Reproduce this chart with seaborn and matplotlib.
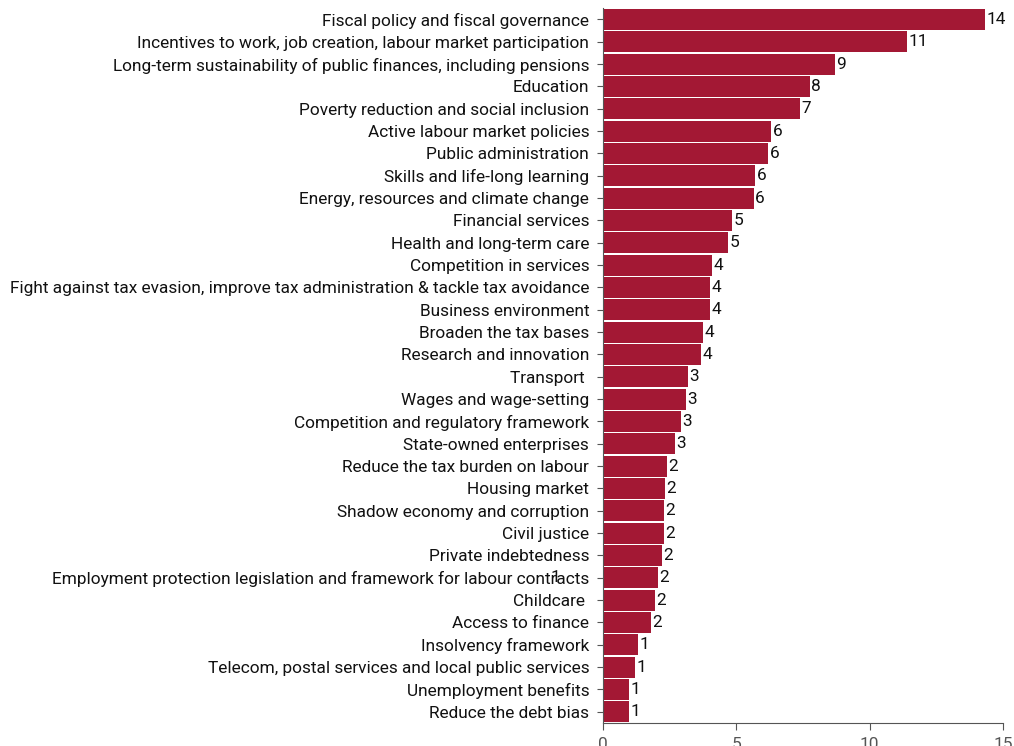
import numpy as np
import pandas as pd
import matplotlib
matplotlib.use("Agg")
import matplotlib.pyplot as plt
import seaborn as sns

categories = [
    "Fiscal policy and fiscal governance",
    "Incentives to work, job creation, labour market participation",
    "Long-term sustainability of public finances, including pensions",
    "Education",
    "Poverty reduction and social inclusion",
    "Active labour market policies",
    "Public administration",
    "Skills and life-long learning",
    "Energy, resources and climate change",
    "Financial services",
    "Health and long-term care",
    "Competition in services",
    "Fight against tax evasion, improve tax administration & tackle tax avoidance",
    "Business environment",
    "Broaden the tax bases",
    "Research and innovation",
    "Transport ",
    "Wages and wage-setting",
    "Competition and regulatory framework",
    "State-owned enterprises",
    "Reduce the tax burden on labour",
    "Housing market",
    "Shadow economy and corruption",
    "Civil justice",
    "Private indebtedness",
    "Employment protection legislation and framework for labour contracts",
    "Childcare ",
    "Access to finance",
    "Insolvency framework",
    "Telecom, postal services and local public services",
    "Unemployment benefits",
    "Reduce the debt bias",
]
values = [14.32, 11.4, 8.7, 7.76, 7.39, 6.3, 6.19, 5.7, 5.66, 4.84, 4.69, 4.09,
          4.01, 4.01, 3.75, 3.67, 3.19, 3.11, 2.92, 2.7, 2.4, 2.32, 2.29, 2.29,
          2.21, 2.06, 1.95, 1.8, 1.31, 1.2, 0.97, 0.97]

df = pd.DataFrame({"policy": categories, "value": values})

sns.set_style("white")
plt.rcParams["font.family"] = ["Roboto", "DejaVu Sans"]

fig = plt.figure(figsize=(10.14, 7.46), dpi=100)
ax = fig.add_axes([0.5947, 0.031, 0.3945, 0.958])

sns.barplot(data=df, x="value", y="policy", color="#A31834", saturation=1,
            width=0.94, linewidth=0, ax=ax)

ax.bar_label(ax.containers[0], fmt="%.0f", padding=1, fontsize=12.4, color="#111111")

# stray label that sits over the "contracts" text in the original
ax.text(-1.8, 25, "1", ha="center", va="center", fontsize=12.4, color="#111111",
        clip_on=False)

ax.set_xlim(0, 15)
ax.set_xticks([0, 5, 10, 15])
ax.set_xlabel("")
ax.set_ylabel("")
ax.tick_params(axis="y", labelsize=12.4, length=4, width=0.8, color="#555555",
               left=True, pad=6)
ax.tick_params(axis="x", labelsize=12.4, length=5, width=0.8, color="#555555",
               bottom=True, colors="#555555", pad=5)
for lbl in ax.get_yticklabels():
    lbl.set_color("#111111")
sns.despine(ax=ax, top=True, right=True)
ax.spines["left"].set_color("#555555")
ax.spines["bottom"].set_color("#555555")

fig.savefig("out.png", dpi=100)
